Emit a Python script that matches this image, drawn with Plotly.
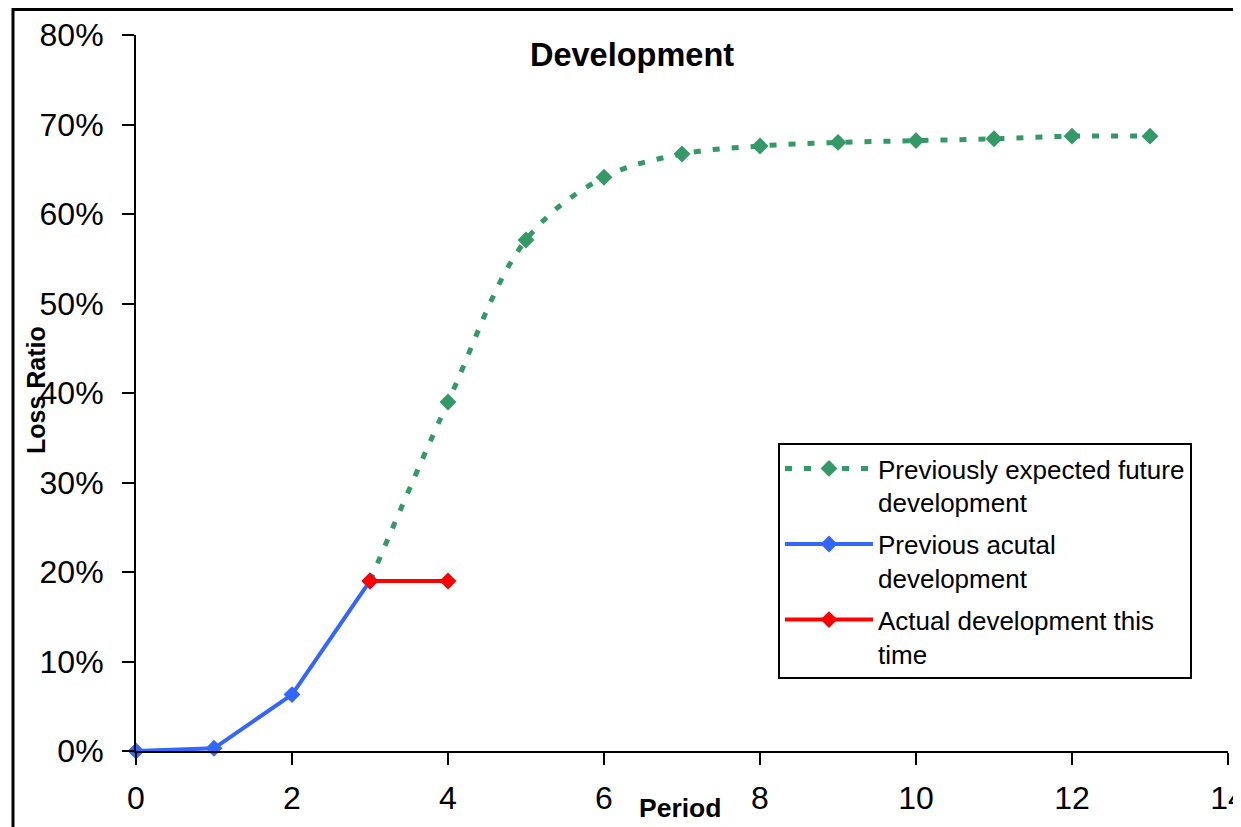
import plotly.graph_objects as go

# data (loss ratio as fraction)
expected_period = [3, 4, 5, 6, 7, 8, 9, 10, 11, 12, 13]
expected_ratio = [0.190, 0.390, 0.571, 0.641, 0.667, 0.676, 0.680, 0.682, 0.684, 0.687, 0.687]

previous_period = [0, 1, 2, 3]
previous_ratio = [0.0, 0.003, 0.063, 0.190]

actual_period = [3, 4]
actual_ratio = [0.190, 0.190]

FONT = "Liberation Sans, Arial, sans-serif"

# the page body adds an 8px offset, so margins are shifted to compensate
PLOT_L, PLOT_B, PLOT_W, PLOT_H = 136, 751, 1092, 716  # page pixels


def px_x(x):
    return (x - PLOT_L) / PLOT_W


def px_y(y):
    return (PLOT_B - y) / PLOT_H


fig = go.Figure()

fig.add_trace(go.Scatter(
    x=expected_period, y=expected_ratio,
    name="Previously expected future<br>development", legendgroup="a",
    mode="lines+markers",
    line=dict(color="#339966", width=5, dash="7px,12px", shape="spline", smoothing=1.0),
    marker=dict(symbol="diamond", size=13, color="#339966"),
    cliponaxis=False,
))
fig.add_trace(go.Scatter(
    x=previous_period, y=previous_ratio,
    name="Previous acutal<br>development", legendgroup="b",
    mode="lines+markers",
    line=dict(color="#3366FF", width=4),
    marker=dict(symbol="diamond", size=13, color="#3366FF"),
    cliponaxis=False,
))
fig.add_trace(go.Scatter(
    x=actual_period, y=actual_ratio,
    name="Actual development this<br>time", legendgroup="c",
    mode="lines+markers",
    line=dict(color="#FF0000", width=4),
    marker=dict(symbol="diamond", size=13, color="#FF0000"),
    cliponaxis=False,
))

fig.update_xaxes(
    range=[0, 14], tickvals=[0, 2, 4, 6, 8, 10, 12, 14],
    showline=True, linecolor="black", linewidth=2,
    ticks="outside", ticklen=12, tickwidth=2, tickcolor="black",
    showgrid=False, zeroline=False, automargin=False,
    tickfont=dict(family=FONT, size=32, color="black"),
    ticklabelstandoff=6,
)
fig.update_yaxes(
    range=[0, 0.8], dtick=0.1, tickformat=".0%",
    showline=True, linecolor="black", linewidth=2,
    ticks="outside", ticklen=12, tickwidth=2, tickcolor="black",
    showgrid=False, zeroline=False, automargin=False,
    tickfont=dict(family=FONT, size=32, color="black"),
    ticklabelstandoff=12,
)

fig.update_layout(
    width=1241, height=827,
    margin=dict(l=128, r=21, t=27, b=84),
    paper_bgcolor="white", plot_bgcolor="white",
    font=dict(family=FONT, color="black"),
    legend=dict(
        x=px_x(778), y=px_y(443), xanchor="left", yanchor="top",
        bordercolor="black", borderwidth=2, bgcolor="white",
        font=dict(family=FONT, size=26, color="black"),
        valign="top", itemwidth=88, tracegroupgap=5,
    ),
    annotations=[
        dict(text="<b>Development</b>", xref="paper", yref="paper",
             x=px_x(632), y=px_y(55), showarrow=False,
             xanchor="center", yanchor="middle",
             font=dict(family=FONT, size=32.5, color="black")),
        dict(text="<b>Loss Ratio</b>", xref="paper", yref="paper",
             x=px_x(36), y=px_y(390), showarrow=False,
             textangle=-90, xanchor="center", yanchor="middle",
             font=dict(family=FONT, size=25, color="black")),
        dict(text="<b>Period</b>", xref="paper", yref="paper",
             x=px_x(680), y=px_y(808), showarrow=False,
             xanchor="center", yanchor="middle",
             font=dict(family=FONT, size=26.5, color="black")),
    ],
    shapes=[
        # outer chart frame, running past the right and bottom edges
        dict(type="rect", xref="paper", yref="paper",
             x0=px_x(13), y0=-0.3, x1=1.2, y1=px_y(9.5),
             line=dict(color="black", width=3), fillcolor="rgba(0,0,0,0)",
             layer="below"),
    ],
)

fig.write_html("out.html")
